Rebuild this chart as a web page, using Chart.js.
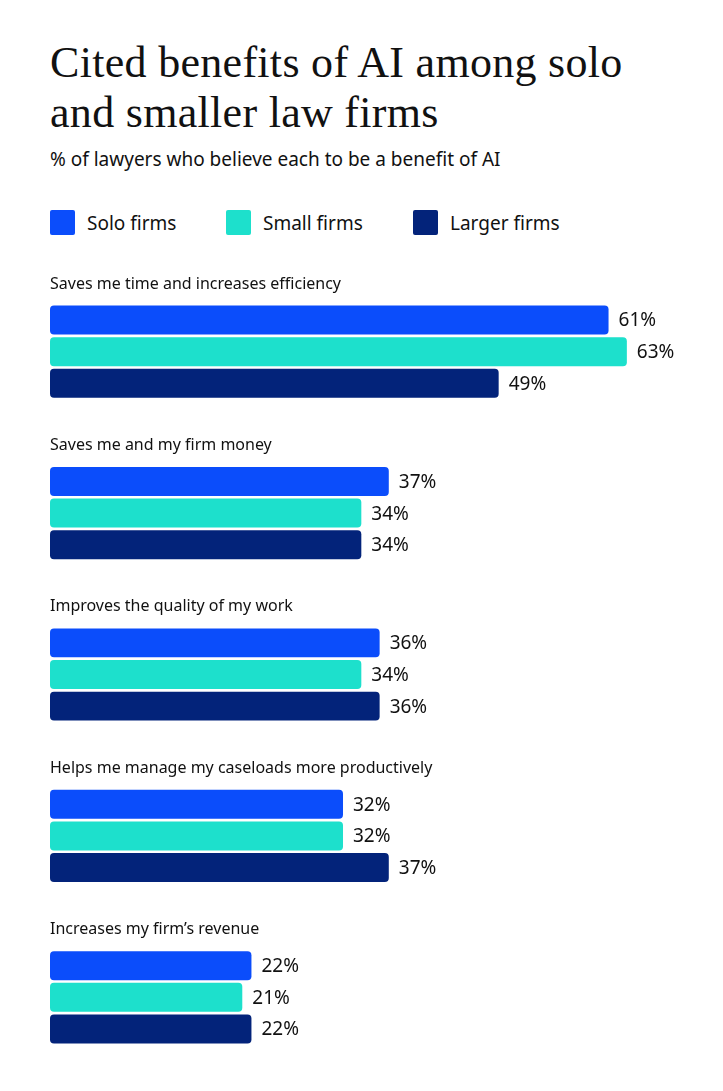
<!DOCTYPE html>
<html><head><meta charset="utf-8">
<script src="https://cdn.jsdelivr.net/npm/chart.js@4"></script>
<style>
body{margin:0;width:723px;height:1091px;background:#fff;position:relative;font-family:"Noto Sans",sans-serif;overflow:hidden}
#t{position:absolute;left:50px;top:38px;font-family:"Liberation Serif",serif;font-size:44px;line-height:50px;color:#111;letter-spacing:0.3px}
#s{position:absolute;left:50px;top:146px;font-size:19px;color:#111}
.lg{position:absolute;top:210px;font-size:19px;color:#111;line-height:26px}
.lg span{display:inline-block;width:25px;height:25px;vertical-align:top;margin-right:12px;border-radius:2px}
canvas{position:absolute;left:0;top:0}
</style></head><body>
<div id="t">Cited benefits of AI among solo<br>and smaller law firms</div>
<div id="s">% of lawyers who believe each to be a benefit of AI</div>
<div id="legend"></div>
<canvas id="c" width="723" height="1091"></canvas>
<script>
const categories=["Saves me time and increases efficiency","Saves me and my firm money","Improves the quality of my work","Helps me manage my caseloads more productively","Increases my firm’s revenue"];
const seriesNames=["Solo firms","Small firms","Larger firms"];
const solo=[61,37,36,32,22];
const small=[63,34,34,32,21];
const larger=[49,34,36,37,22];
const colors=["#0B4DFB","#1DE0CC","#03237A"];
const legendX=[50,226,413];
document.getElementById('legend').innerHTML=seriesNames.map((n,i)=>`<div class="lg" style="left:${legendX[i]}px"><span style="background:${colors[i]}"></span>${n}</div>`).join('');
const labelsPlugin={id:'lbl',afterDatasetsDraw(ch){
 const ctx=ch.ctx;ctx.save();
 ctx.fillStyle='#111';ctx.textBaseline='middle';
 ctx.font='19px "Noto Sans"';
 ch.data.datasets.forEach((d,di)=>{ch.getDatasetMeta(di).data.forEach((b,i)=>{ctx.fillText(d.data[i]+'%',b.x+10,b.y+1);});});
 ctx.font='16px "Noto Sans"';ctx.textBaseline='alphabetic';
 const m=ch.getDatasetMeta(0);
 m.data.forEach((b,i)=>{ctx.fillText(categories[i],50,b.y-b.height/2-17);});
 ctx.restore();}};
new Chart(document.getElementById('c'),{type:'bar',
 data:{labels:categories,datasets:[solo,small,larger].map((d,i)=>({label:seriesNames[i],data:d,backgroundColor:colors[i],borderRadius:4,borderSkipped:false,categoryPercentage:0.588,barPercentage:0.916}))},
 options:{indexAxis:'y',responsive:false,animation:false,
  layout:{padding:{top:271,bottom:13,left:50,right:0}},
  plugins:{legend:{display:false},tooltip:{enabled:false}},
  scales:{x:{display:false,min:0,max:73.5},y:{display:false}}},
 plugins:[labelsPlugin]});
</script></body></html>
